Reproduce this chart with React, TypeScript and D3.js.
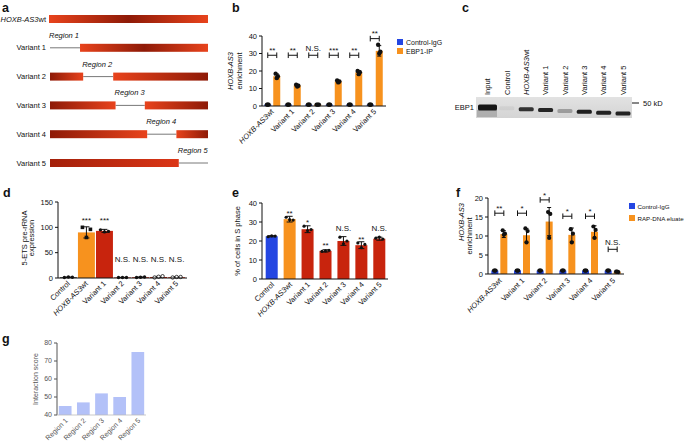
import React from 'react';
import * as d3 from 'd3';

const FONT = "'Liberation Sans', Arial, Helvetica, sans-serif";
const BLUE = '#2446e2';
const ORANGE = '#f7921e';
const RED = '#c8240d';
const INK = '#111';

// ---------- panel a ----------
const aRowLabels = ['HOXB-AS3wt', 'Variant 1', 'Variant 2', 'Variant 3', 'Variant 4', 'Variant 5'];
const aRegionNames = ['Region 1', 'Region 2', 'Region 3', 'Region 4', 'Region 5'];
const aRegionStart = [0, 21, 41.5, 61.5, 81.5];
const aRegionEnd = [19, 40, 60, 80, 100];

// ---------- panel b ----------
const bCategories = ['HOXB-AS3wt', 'Variant 1', 'Variant 2', 'Variant 3', 'Variant 4', 'Variant 5'];
const bControl = [0.8, 0.8, 0.8, 0.8, 0.8, 0.8];
const bEBP1 = [17, 11.8, 0.8, 14, 19.2, 31.5];
const bEBP1Err = [1.4, 0.6, 0.2, 0.6, 1.0, 3.0];
const bEBP1Dots = [[18.5, 17, 16], [12.2, 11.6, 11.1], [0.8, 0.8, 0.8], [14.6, 14, 13.5], [20, 19.3, 18.2], [35, 31, 30]];
const bSig = ['**', '**', 'N.S.', '***', '**', '**'];
const bSigLevel = [29, 29, 29, 29, 29, 38.5];
const bTicks = [0, 10, 20, 30, 40];

// ---------- panel c ----------
const cLanes = ['Input', 'Control', 'HOXB-AS3wt', 'Variant 1', 'Variant 2', 'Variant 3', 'Variant 4', 'Variant 5'];
const cIntensity = [1, 0.05, 0.85, 0.92, 0.3, 0.95, 0.93, 0.93];

// ---------- panel d ----------
const dCategories = ['Control', 'HOXB-AS3wt', 'Variant 1', 'Variant 2', 'Variant 3', 'Variant 4', 'Variant 5'];
const dValues = [1.5, 90, 93, 1, 1.5, 2, 1.5];
const dErr = [0.5, 11, 3, 0.3, 0.6, 1.2, 1.0];
const dDots = [[1, 1.5, 2], [100, 96, 80], [95, 92, 91], [1, 1, 1], [1, 2, 1.5], [1, 3.5, 2.5], [1, 2, 2]];
const dSig = ['', '***', '***', 'N.S.', 'N.S.', 'N.S.', 'N.S.'];
const dSigLevel = [0, 118, 118, 38, 38, 38, 38];
const dTicks = [0, 50, 100, 150];

// ---------- panel e ----------
const eCategories = ['Control', 'HOXB-AS3wt', 'Variant 1', 'Variant 2', 'Variant 3', 'Variant 4', 'Variant 5'];
const eValues = [22.5, 31.5, 26.2, 14.8, 20, 17.8, 21.2];
const eErr = [0.3, 1.5, 1.8, 0.6, 2.3, 1.8, 0.8];
const eDots = [[22.3, 22.6, 22.7], [32.5, 31, 31.2], [27.8, 26, 25.5], [14.5, 15.1, 14.8], [22, 20, 18.5], [19, 18.2, 16.5], [21.5, 21, 22]];
const eSig = ['', '**', '*', '**', 'N.S.', '**', 'N.S.'];
const eSigLevel = [0, 35.8, 31, 19, 26.8, 22, 26.8];
const eTicks = [0, 10, 20, 30, 40];

// ---------- panel f ----------
const fCategories = ['HOXB-AS3wt', 'Variant 1', 'Variant 2', 'Variant 3', 'Variant 4', 'Variant 5'];
const fControl = [0.9, 0.9, 0.9, 0.9, 0.9, 0.9];
const fRAP = [10.5, 10.2, 13.8, 10.3, 11.1, 0.6];
const fRAPErr = [0.9, 1.8, 3.7, 1.8, 1.6, 0.1];
const fRAPDots = [[11.5, 10.6, 10.3], [12, 11.3, 8.3], [16.3, 15.8, 9.5], [11.8, 10.6, 8.3], [12.5, 11.6, 9.5], [0.6, 0.5, 0.6]];
const fSig = ['**', '*', '*', '*', '*', 'N.S.'];
const fSigLevel = [16, 16, 19.5, 15.2, 15.2, 6.5];
const fTicks = [0, 5, 10, 15, 20];

// ---------- panel g ----------
const gCategories = ['Region 1', 'Region 2', 'Region 3', 'Region 4', 'Region 5'];
const gValues = [45, 47, 52, 50, 75];
const gTicks = [40, 50, 60, 70, 80];

const JIT = [-1.6, 1.6, 0];

function GeneText({ label }: { label: string }) {
  if (label.startsWith('HOXB-AS3')) {
    return (
      <>
        <tspan fontStyle="italic">HOXB-AS3</tspan>
        <tspan>{label.slice(8)}</tspan>
      </>
    );
  }
  return <>{label}</>;
}

function PanelLabel({ x, y, t }: { x: number; y: number; t: string }) {
  return (
    <text x={x} y={y} fontSize={12.5} fontWeight="bold" fill={INK}>
      {t}
    </text>
  );
}

function YAxis({ y, x, ticks, color = INK, fs = 7.5 }: any) {
  const dom = y.domain();
  return (
    <g>
      <line x1={x} x2={x} y1={y(dom[0])} y2={y(dom[1])} stroke={color} strokeWidth={1} />
      {ticks.map((t: number) => (
        <g key={t}>
          <line x1={x - 3} x2={x} y1={y(t)} y2={y(t)} stroke={color} strokeWidth={1} />
          <text x={x - 5} y={y(t)} dy="0.35em" textAnchor="end" fontSize={fs} fill={color}>
            {t}
          </text>
        </g>
      ))}
    </g>
  );
}

function XLabels({ cats, xs, y, fs = 7.5, color = INK }: any) {
  return (
    <g>
      {cats.map((c: string, i: number) => (
        <text key={c} transform={`translate(${xs[i]},${y}) rotate(-45)`} textAnchor="end" fontSize={fs} fill={color}>
          <GeneText label={c} />
        </text>
      ))}
    </g>
  );
}

function ErrorBar({ x, y1, y2, cap = 4 }: any) {
  return (
    <g stroke={INK} strokeWidth={1}>
      <line x1={x} x2={x} y1={y1} y2={y2} />
      <line x1={x - cap / 2} x2={x + cap / 2} y1={y1} y2={y1} />
      <line x1={x - cap / 2} x2={x + cap / 2} y1={y2} y2={y2} />
    </g>
  );
}

function SigText({ x, y, label, fs = 8 }: any) {
  const isStar = label.indexOf('*') >= 0;
  return (
    <text x={x} y={y + (isStar ? fs * 0.58 : fs * 0.36)} textAnchor="middle" fontSize={fs} fill={INK}>
      {label}
    </text>
  );
}

function Bracket({ x1, x2, y, label }: any) {
  return (
    <g>
      <g stroke={INK} strokeWidth={1}>
        <line x1={x1} x2={x2} y1={y} y2={y} />
        <line x1={x1} x2={x1} y1={y - 2.8} y2={y + 2.8} />
        <line x1={x2} x2={x2} y1={y - 2.8} y2={y + 2.8} />
      </g>
      <SigText x={(x1 + x2) / 2} y={y - 7} label={label} />
    </g>
  );
}

function PanelA() {
  const x = d3.scaleLinear().domain([0, 100]).range([50, 208]);
  const y = d3.scalePoint<string>().domain(aRowLabels).range([19, 163]);
  const h = 8;
  return (
    <g>
      <defs>
        <linearGradient id="gMid" x1="0" x2="1" y1="0" y2="0">
          <stop offset="0" stopColor="#e8431c" />
          <stop offset="0.5" stopColor="#8e1a07" />
          <stop offset="1" stopColor="#e8431c" />
        </linearGradient>
        <linearGradient id="gDB" x1="0" x2="1" y1="0" y2="0">
          <stop offset="0" stopColor="#8e1a07" />
          <stop offset="1" stopColor="#e8431c" />
        </linearGradient>
        <linearGradient id="gBD" x1="0" x2="1" y1="0" y2="0">
          <stop offset="0" stopColor="#e8431c" />
          <stop offset="1" stopColor="#8e1a07" />
        </linearGradient>
        <linearGradient id="gV5" x1="0" x2="1" y1="0" y2="0">
          <stop offset="0" stopColor="#a3200a" />
          <stop offset="1" stopColor="#db3617" />
        </linearGradient>
      </defs>
      <PanelLabel x={2} y={12} t="a" />
      {aRowLabels.map((r, i) => {
        const cy = y(r)!;
        const label = (
          <text x={46} y={cy} dy="0.35em" textAnchor="end" fontSize={7.5} fill={INK}>
            <GeneText label={r} />
          </text>
        );
        if (i === 0) {
          return (
            <g key={r}>
              {label}
              <rect x={x(0) - 1} y={cy - h / 2} width={x(100) - x(0) + 1} height={h} fill="url(#gMid)" />
            </g>
          );
        }
        const k = i - 1;
        const s = aRegionStart[k];
        const e = aRegionEnd[k];
        const segs: [number, number, string][] = [];
        if (s > 0) segs.push([0, s, k === 4 ? 'url(#gV5)' : 'url(#gDB)']);
        if (e < 100) segs.push([e, 100, k === 0 ? 'url(#gMid)' : 'url(#gBD)']);
        return (
          <g key={r}>
            {label}
            <line x1={x(s)} x2={x(e)} y1={cy} y2={cy} stroke="#555" strokeWidth={0.8} />
            {segs.map(([a, b, f], j) => (
              <rect key={j} x={x(a)} y={cy - h / 2} width={x(b) - x(a)} height={h} fill={f} />
            ))}
            <text x={x(s) - 1} y={cy - 10} fontSize={7.5} fontStyle="italic" fill={INK}>
              {aRegionNames[k]}
            </text>
          </g>
        );
      })}
    </g>
  );
}

function PanelB() {
  const y = d3.scaleLinear().domain([0, 40]).range([106, 36]);
  const x = d3.scaleBand<string>().domain(bCategories).range([262, 385]);
  const off = 4.5;
  const bw = 7;
  const centers = bCategories.map((c) => x(c)! + x.bandwidth() / 2);
  return (
    <g>
      <PanelLabel x={232} y={12} t="b" />
      {bCategories.map((c, i) => {
        const xc = centers[i] - off;
        const xo = centers[i] + off;
        return (
          <g key={c}>
            <rect x={xc - bw / 2} y={y(bControl[i])} width={bw} height={y(0) - y(bControl[i])} fill={BLUE} />
            <rect x={xo - bw / 2} y={y(bEBP1[i])} width={bw} height={y(0) - y(bEBP1[i])} fill={ORANGE} />
            <ErrorBar x={xo} y1={y(bEBP1[i] - bEBP1Err[i])} y2={y(bEBP1[i] + bEBP1Err[i])} />
            {[0, 1, 2].map((j) => (
              <circle key={'c' + j} cx={xc + JIT[j] * 0.5} cy={y(bControl[i])} r={2.2} fill={INK} />
            ))}
            {bEBP1Dots[i].map((v, j) => (
              <circle key={'o' + j} cx={xo + JIT[j] * 0.7} cy={y(v)} r={2.2} fill={INK} />
            ))}
            <Bracket x1={xc} x2={xo} y={y(bSigLevel[i])} label={bSig[i]} />
          </g>
        );
      })}
      <YAxis y={y} x={262} ticks={bTicks} />
      <line x1={262} x2={386} y1={y(0)} y2={y(0)} stroke={INK} />
      <XLabels cats={bCategories} xs={centers.map((c) => c + 2)} y={112} />
      <text transform="translate(233,71) rotate(-90)" textAnchor="middle" fontSize={7.5} fill={INK}>
        <tspan fontStyle="italic">HOXB-AS3</tspan>
      </text>
      <text transform="translate(241.5,71) rotate(-90)" textAnchor="middle" fontSize={7.5} fill={INK}>
        enrichment
      </text>
      <rect x={397} y={39} width={6} height={6} fill={BLUE} />
      <text x={406} y={44.5} fontSize={7} fill={INK}>Control-IgG</text>
      <rect x={397} y={48} width={6} height={6} fill={ORANGE} />
      <text x={406} y={53.5} fontSize={7} fill={INK}>EBP1-IP</text>
    </g>
  );
}

function PanelC() {
  const x = d3.scalePoint<string>().domain(cLanes).range([487.5, 623]);
  const bandY = d3.scaleLinear().domain([0, cLanes.length - 1]).range([107.5, 113.5]);
  return (
    <g>
      <defs>
        <filter id="blotBlur" x="-20%" y="-50%" width="140%" height="200%">
          <feGaussianBlur stdDeviation="0.7" />
        </filter>
        <linearGradient id="blotBg" x1="0" x2="0" y1="0" y2="1">
          <stop offset="0" stopColor="#e2e2e2" />
          <stop offset="1" stopColor="#d4d4d4" />
        </linearGradient>
      </defs>
      <PanelLabel x={462} y={12} t="c" />
      {cLanes.map((l) => (
        <text key={l} transform={`translate(${x(l)! + 2.7},95) rotate(-90)`} fontSize={7.5} fill={INK}>
          <GeneText label={l} />
        </text>
      ))}
      <rect x={476} y={97} width={156} height={21} fill="url(#blotBg)" />
      <rect x={477} y={110} width={20} height={7} fill="#8f8f8f" opacity={0.55} filter="url(#blotBlur)" />
      {cLanes.map((l, i) => {
        const w = i === 0 ? 19 : 15;
        const hh = i === 0 ? 6 : 4;
        return (
          <rect
            key={l}
            x={x(l)! - w / 2}
            y={bandY(i) - hh / 2}
            width={w}
            height={hh}
            rx={1.5}
            fill="#151515"
            opacity={cIntensity[i]}
            filter="url(#blotBlur)"
          />
        );
      })}
      <text x={474} y={107} dy="0.35em" textAnchor="end" fontSize={7.5} fill={INK}>EBP1</text>
      <line x1={632} x2={639} y1={103} y2={103} stroke={INK} strokeWidth={1} />
      <text x={643} y={103} dy="0.35em" fontSize={7.5} fill={INK}>50 kD</text>
    </g>
  );
}

function PanelD() {
  const y = d3.scaleLinear().domain([0, 150]).range([278, 202]);
  const x = d3.scaleBand<string>().domain(dCategories).range([59, 186]).paddingInner(0.06).paddingOuter(0.05);
  const centers = dCategories.map((c) => x(c)! + x.bandwidth() / 2);
  const colors = dCategories.map((c, i) => (i === 0 ? '#333' : i === 1 ? ORANGE : RED));
  return (
    <g>
      <PanelLabel x={3} y={197} t="d" />
      {dCategories.map((c, i) => {
        const cx = centers[i];
        const bw = x.bandwidth();
        return (
          <g key={c}>
            <rect x={cx - bw / 2} y={y(dValues[i])} width={bw} height={y(0) - y(dValues[i])} fill={colors[i]} />
            <ErrorBar x={cx} y1={y(Math.max(0, dValues[i] - dErr[i]))} y2={y(dValues[i] + dErr[i])} cap={6} />
            {dDots[i].map((v, j) => {
              const px = cx + JIT[j] * 2.5;
              if (i === 1)
                return <rect key={j} x={px - 1.8} y={y(v) - 1.8} width={3.6} height={3.6} fill={INK} />;
              if (i >= 5)
                return <circle key={j} cx={px} cy={y(v)} r={1.7} fill="#fff" stroke={INK} strokeWidth={0.8} />;
              return <circle key={j} cx={px} cy={y(v)} r={1.7} fill={INK} />;
            })}
            {dSig[i] && <SigText x={cx} y={y(dSigLevel[i])} label={dSig[i]} />}
          </g>
        );
      })}
      <YAxis y={y} x={58} ticks={dTicks} />
      <line x1={58} x2={187} y1={y(0)} y2={y(0)} stroke={INK} />
      <XLabels cats={dCategories} xs={centers.map((c) => c + 2)} y={284} />
      <text transform="translate(26.5,238) rotate(-90)" textAnchor="middle" fontSize={7.5} fill={INK}>
        5-ETS pre-rRNA
      </text>
      <text transform="translate(34,238) rotate(-90)" textAnchor="middle" fontSize={7.5} fill={INK}>
        expression
      </text>
    </g>
  );
}

function PanelE() {
  const y = d3.scaleLinear().domain([0, 40]).range([279, 203]);
  const x = d3.scaleBand<string>().domain(eCategories).range([263, 388]).paddingInner(0.33).paddingOuter(0.15);
  const centers = eCategories.map((c) => x(c)! + x.bandwidth() / 2);
  const colors = eCategories.map((c, i) => (i === 0 ? BLUE : i === 1 ? ORANGE : RED));
  return (
    <g>
      <PanelLabel x={232} y={197} t="e" />
      {eCategories.map((c, i) => {
        const cx = centers[i];
        const bw = x.bandwidth();
        return (
          <g key={c}>
            <rect x={cx - bw / 2} y={y(eValues[i])} width={bw} height={y(0) - y(eValues[i])} fill={colors[i]} />
            <ErrorBar x={cx} y1={y(eValues[i] - eErr[i])} y2={y(eValues[i] + eErr[i])} cap={6} />
            {eDots[i].map((v, j) => (
              <circle key={j} cx={cx + JIT[j] * 2.2} cy={y(v)} r={1.6} fill={INK} />
            ))}
            {eSig[i] && <SigText x={cx} y={y(eSigLevel[i])} label={eSig[i]} />}
          </g>
        );
      })}
      <YAxis y={y} x={262} ticks={eTicks} />
      <line x1={262} x2={388} y1={y(0)} y2={y(0)} stroke={INK} />
      <XLabels cats={eCategories} xs={centers.map((c) => c + 3)} y={285} />
      <text transform="translate(240,241) rotate(-90)" textAnchor="middle" fontSize={7.5} fill={INK}>
        % of cells in S phase
      </text>
    </g>
  );
}

function PanelF() {
  const y = d3.scaleLinear().domain([0, 20]).range([274, 198]);
  const x = d3.scaleBand<string>().domain(fCategories).range([488, 624]);
  const off = 4.5;
  const bw = 7;
  const centers = fCategories.map((c) => x(c)! + x.bandwidth() / 2);
  return (
    <g>
      <PanelLabel x={456} y={197} t="f" />
      {fCategories.map((c, i) => {
        const xc = centers[i] - off;
        const xo = centers[i] + off;
        return (
          <g key={c}>
            <rect x={xc - bw / 2} y={y(fControl[i])} width={bw} height={y(0) - y(fControl[i])} fill={BLUE} />
            <rect x={xo - bw / 2} y={y(fRAP[i])} width={bw} height={y(0) - y(fRAP[i])} fill={ORANGE} />
            <ErrorBar x={xo} y1={y(fRAP[i] - fRAPErr[i])} y2={y(fRAP[i] + fRAPErr[i])} />
            {[0, 1, 2].map((j) => (
              <circle key={'c' + j} cx={xc + JIT[j] * 0.5} cy={y(fControl[i])} r={2.1} fill={INK} />
            ))}
            {fRAPDots[i].map((v, j) => (
              <circle key={'o' + j} cx={xo + JIT[j] * 0.7} cy={y(v)} r={2.1} fill={INK} />
            ))}
            <Bracket x1={xc} x2={xo} y={y(fSigLevel[i])} label={fSig[i]} />
          </g>
        );
      })}
      <YAxis y={y} x={488} ticks={fTicks} />
      <line x1={488} x2={624} y1={y(0)} y2={y(0)} stroke={INK} />
      <XLabels cats={fCategories} xs={centers.map((c) => c + 3)} y={281} />
      <text transform="translate(464,222) rotate(-90)" textAnchor="middle" fontSize={7.5} fill={INK}>
        <tspan fontStyle="italic">HOXB-AS3</tspan>
      </text>
      <text transform="translate(472,236) rotate(-90)" textAnchor="middle" fontSize={7.5} fill={INK}>
        enrichment
      </text>
      <rect x={629} y={203} width={6} height={6} fill={BLUE} />
      <text x={637.5} y={208.5} fontSize={6.2} fill={INK}>Control-IgG</text>
      <rect x={629} y={215} width={6} height={6} fill={ORANGE} />
      <text x={637.5} y={220.5} fontSize={6.2} fill={INK}>RAP-DNA eluate</text>
    </g>
  );
}

function PanelG() {
  const y = d3.scaleLinear().domain([40, 80]).range([415, 343]);
  const x = d3.scaleBand<string>().domain(gCategories).range([57, 146]).paddingInner(0.3).paddingOuter(0.1);
  const centers = gCategories.map((c) => x(c)! + x.bandwidth() / 2);
  const grey = '#555';
  return (
    <g>
      <PanelLabel x={2} y={343} t="g" />
      {gCategories.map((c, i) => (
        <rect key={c} x={x(c)!} y={y(gValues[i])} width={x.bandwidth()} height={y(40) - y(gValues[i])} fill="#b3c1f8" />
      ))}
      <YAxis y={y} x={57} ticks={gTicks} color={grey} fs={7} />
      <line x1={57} x2={146} y1={y(40)} y2={y(40)} stroke="#bbb" strokeWidth={0.8} />
      <XLabels cats={gCategories} xs={centers.map((c) => c + 3)} y={421} fs={7} color={grey} />
      <text transform="translate(38,379) rotate(-90)" textAnchor="middle" fontSize={7} fill={grey}>
        Interaction score
      </text>
    </g>
  );
}

export default function App() {
  return (
    <svg
      width={686}
      height={443}
      viewBox="0 0 686 443"
      style={{ position: 'absolute', left: 0, top: 0, background: '#fff' }}
      fontFamily={FONT}
    >
      <rect width={686} height={443} fill="#fff" />
      <PanelA />
      <PanelB />
      <PanelC />
      <PanelD />
      <PanelE />
      <PanelF />
      <PanelG />
    </svg>
  );
}
